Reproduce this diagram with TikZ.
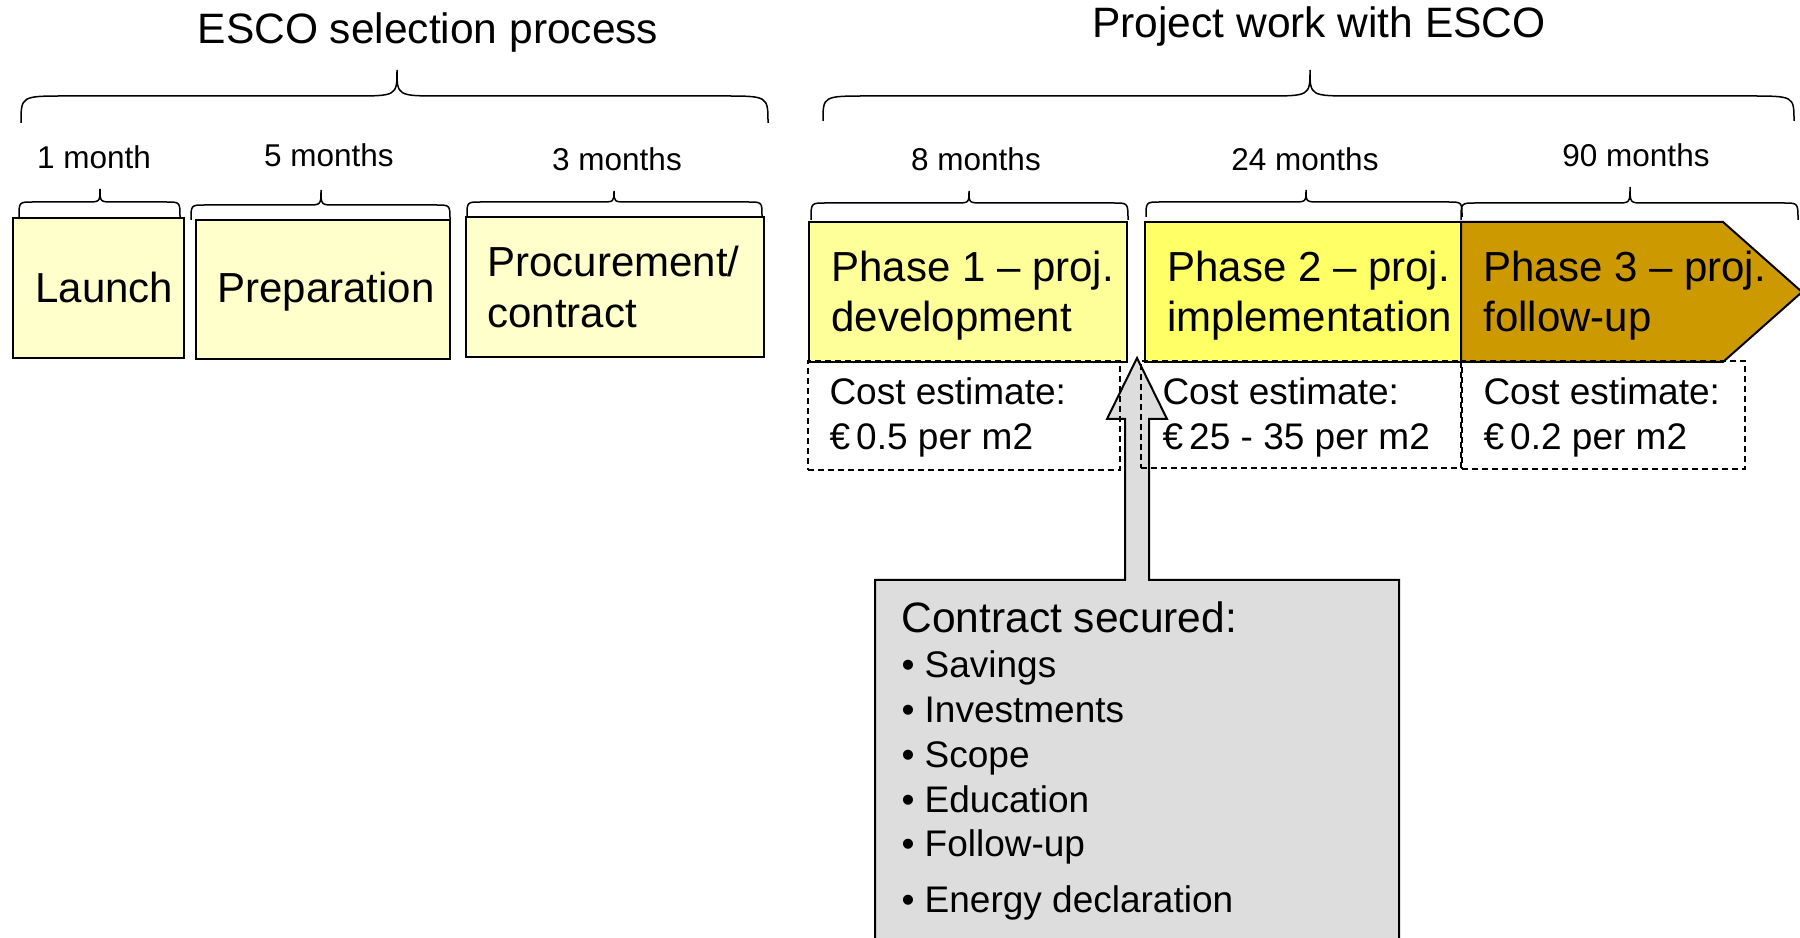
\documentclass[tikz,border=0pt]{standalone}
\usepackage{fontspec}
\setmainfont{Liberation Sans}
\usetikzlibrary{fit}

\definecolor{cream}{HTML}{FFFFCC}
\definecolor{paleyellow}{HTML}{FFFF99}
\definecolor{brightyellow}{HTML}{FFFF66}
\definecolor{phasegold}{HTML}{CC9900}
\definecolor{calloutgray}{HTML}{DDDDDD}

% curly brace: x-left, x-right, x-tip, y-ends, y-flat, y-tip, corner radius
\newcommand\curlybrace[7]{%
  \draw[braceline] (#1,#4) .. controls (#1,#5) .. (#1+#7,#5) -- (#3-#7,#5)
    .. controls (#3,#5) .. (#3,#6) .. controls (#3,#5) .. (#3+#7,#5)
    -- (#2-#7,#5) .. controls (#2,#5) .. (#2,#4);}

\begin{document}
\begin{tikzpicture}[x=0.4pt,y=-0.4pt,
  braceline/.style={line width=0.6pt, black},
  stagebox/.style={draw=black, line width=0.8pt, inner sep=0pt},
  costbox/.style={draw=black, line width=0.6pt, dash pattern=on 2.4pt off 1.6pt, inner sep=0pt},
  txt/.style={inner sep=0pt, anchor=base west},
  title/.style={inner sep=0pt, anchor=base, font=\fontsize{17}{20}\selectfont},
  dur/.style={inner sep=0pt, anchor=base, font=\fontsize{12.6}{15}\selectfont},
  big/.style={txt, font=\fontsize{16.8}{20}\selectfont},
  cost/.style={txt, font=\fontsize{14.8}{18}\selectfont},
]
\useasboundingbox (0,0) rectangle (1800,938);
\clip (0,0) rectangle (1800,938);

% ---- headings and overall braces
\node[title] (tsel) at (428,44) {ESCO selection process};
\node[title] (tproj) at (1319,38) {Project work with ESCO};
\curlybrace{21}{768}{397}{123}{96}{70}{45}
\curlybrace{823}{1794}{1310}{121}{96}{70}{45}

% ---- durations
\node[dur] (d1) at (94,169) {1 month};
\node[dur] (d2) at (329,167) {5 months};
\node[dur] (d3) at (617,171) {3 months};
\node[dur] (d4) at (976,171) {8 months};
\node[dur] (d5) at (1305,171) {24 months};
\node[dur] (d6) at (1636,167) {90 months};
\curlybrace{19}{180}{100}{217}{202}{189}{14}
\curlybrace{191}{450}{321}{220}{205}{190}{14}
\curlybrace{467}{762}{614}{216}{202}{191}{14}
\curlybrace{811}{1128}{969}{220}{203}{191}{14}
\curlybrace{1146}{1462}{1306}{217}{202}{190}{14}
\curlybrace{1461}{1798}{1630}{220}{203}{187}{14}

% ---- selection stages
\node[stagebox, fill=cream, fit={(13,218) (184,358)}] (launch) {};
\node[stagebox, fill=cream, fit={(196,220) (450,359)}] (prep) {};
\node[stagebox, fill=cream, fit={(466,217) (764,357)}] (proc) {};
\node[big] (tlaunch) at (35,303) {Launch};
\node[big] (tprep) at (217,303) {Preparation};
\node[big] (tproc1) at (487,277) {Procurement/};
\node[big] (tproc2) at (487,328) {contract};

% ---- callout with upward arrow
\node[inner sep=0pt, fit={(875,580) (1399,945)}] (callout) {};
\draw[line width=0.8pt, fill=calloutgray]
  (875,945) -- (875,580) -- (1125,580) -- (1125,419) -- (1107,419)
  -- (1137,358) -- (1167,419) -- (1149,419) -- (1149,580)
  -- (1399,580) -- (1399,945);
\node[txt, font=\fontsize{17}{20}\selectfont] (cs) at (901,632) {Contract secured:};
\node[cost] (b1) at (901,677) {• Savings};
\node[cost] (b2) at (901,722) {• Investments};
\node[cost] (b3) at (901,767) {• Scope};
\node[cost] (b4) at (901,812) {• Education};
\node[cost] (b5) at (901,856) {• Follow-up};
\node[cost] (b6) at (901,912) {• Energy declaration};

% ---- project phases
\node[stagebox, fill=paleyellow, fit={(809,222) (1127,362)}] (ph1) {};
\node[stagebox, fill=brightyellow, fit={(1145,222) (1461,362)}] (ph2) {};
\draw[line width=0.8pt, fill=phasegold]
  (1461,222) -- (1723,222) -- (1802,292) -- (1723,362) -- (1461,362) -- cycle;
\node[big] (p1a) at (831,282) {Phase 1 – proj.};
\node[big] (p1b) at (831,332) {development};
\node[big] (p2a) at (1167,282) {Phase 2 – proj.};
\node[big] (p2b) at (1167,332) {implementation};
\node[big] (p3a) at (1483,282) {Phase 3 – proj.};
\node[big] (p3b) at (1483,332) {follow-up};

% ---- cost estimates
\node[costbox, fit={(808,361) (1120,470)}] (c1) {};
\node[costbox, fit={(1141,361) (1461,468)}] (c2) {};
\node[costbox, fit={(1462,361) (1745,469)}] (c3) {};
\node[cost] (c1a) at (829,405) {Cost estimate:};
\node[cost] (c1b) at (829,450) {€\,0.5 per m2};
\node[cost] (c2a) at (1162,405) {Cost estimate:};
\node[cost] (c2b) at (1162,450) {€\,25 - 35 per m2};
\node[cost] (c3a) at (1483,405) {Cost estimate:};
\node[cost] (c3b) at (1483,450) {€\,0.2 per m2};
\end{tikzpicture}
\end{document}
